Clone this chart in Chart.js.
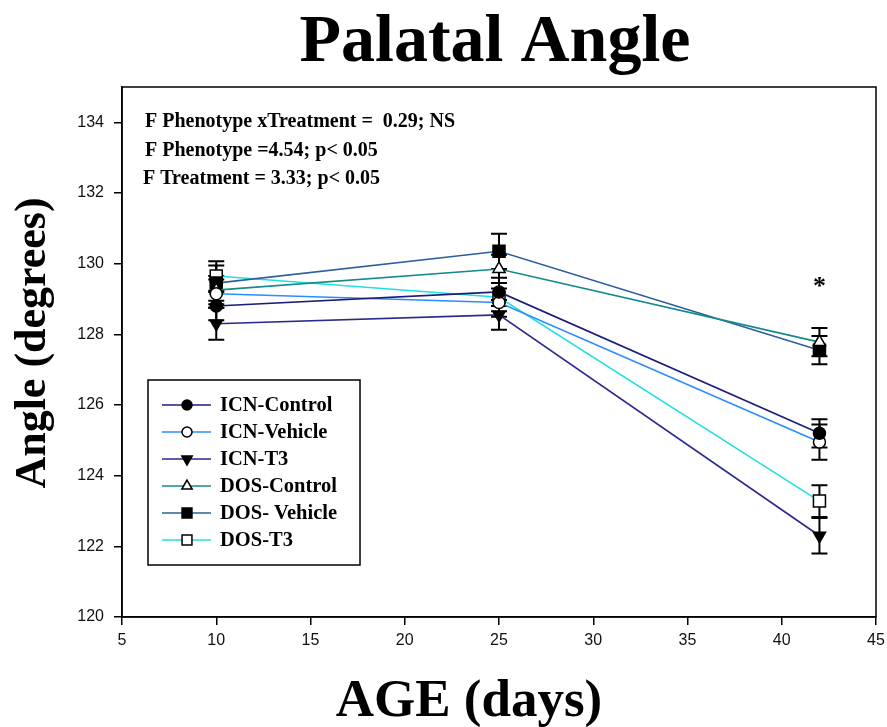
<!DOCTYPE html>
<html>
<head>
<meta charset="utf-8">
<title>Palatal Angle</title>
<script src="https://cdn.jsdelivr.net/npm/chart.js@4.4.1/dist/chart.umd.min.js"></script>
<style>
  html, body { margin: 0; padding: 0; background: #fff; }
</style>
</head>
<body>
<canvas id="angleChart" width="887" height="727"></canvas>
<script>
// Age at measurement (days)
const ages = [10, 25, 42];

// Mean palatal angle (degrees) per group
const icnControl = [128.8, 129.2, 125.2];
const icnVehicle = [129.15, 128.9, 124.95];
const icnT3 = [128.3, 128.55, 122.3];
const dosControl = [129.25, 129.85, 127.78];
const dosVehicle = [129.45, 130.35, 127.55];
const dosT3 = [129.65, 129.05, 123.28];

// Standard error for each mean
const icnControlErr = [0.4, 0.4, 0.4];
const icnVehicleErr = [0.4, 0.4, 0.5];
const icnT3Err = [0.45, 0.42, 0.5];
const dosControlErr = [0.4, 0.4, 0.4];
const dosVehicleErr = [0.5, 0.5, 0.4];
const dosT3Err = [0.42, 0.4, 0.45];

const groupLabels = ["ICN-Control", "ICN-Vehicle", "ICN-T3", "DOS-Control", "DOS- Vehicle", "DOS-T3"];
const statLines = [
  "F Phenotype xTreatment =  0.29; NS",
  "F Phenotype =4.54; p< 0.05",
  "F Treatment = 3.33; p< 0.05"
];
const yTicks = [120, 122, 124, 126, 128, 130, 132, 134];
const xTicks = [5, 10, 15, 20, 25, 30, 35, 40, 45];

const means = [icnControl, icnVehicle, icnT3, dosControl, dosVehicle, dosT3];
const errors = [icnControlErr, icnVehicleErr, icnT3Err, dosControlErr, dosVehicleErr, dosT3Err];

const lineColors = ["#1c1c7a", "#2b8cff", "#2a2a8c", "#148a8a", "#2d5f9f", "#22e0e0"];
const markerStyles = [
  { pointStyle: "circle", fill: "#000", rotation: 0, radius: 6 },
  { pointStyle: "circle", fill: "#fff", rotation: 0, radius: 6 },
  { pointStyle: "triangle", fill: "#000", rotation: 180, radius: 7 },
  { pointStyle: "triangle", fill: "#fff", rotation: 0, radius: 7 },
  { pointStyle: "rect", fill: "#000", rotation: 0, radius: 8.5 },
  { pointStyle: "rect", fill: "#fff", rotation: 0, radius: 8.5 }
];

const SERIF = "'Liberation Serif', 'Times New Roman', serif";

const datasets = means.map((vals, i) => ({
  label: groupLabels[i],
  data: ages.map((a, j) => ({ x: a, y: vals[j] })),
  borderColor: lineColors[i],
  borderWidth: 1.6,
  tension: 0,
  fill: false,
  pointStyle: markerStyles[i].pointStyle,
  pointRotation: markerStyles[i].rotation,
  pointRadius: markerStyles[i].radius,
  pointBackgroundColor: markerStyles[i].fill,
  pointBorderColor: "#000",
  pointBorderWidth: 1.5
}));

// error bars, frame, titles, stats text, legend and significance mark
const decorations = {
  id: "decorations",
  beforeDatasetsDraw(chart) {
    const { ctx, scales: { x, y } } = chart;
    ctx.save();
    ctx.strokeStyle = "#000";
    ctx.lineWidth = 2;
    chart.data.datasets.forEach((ds, i) => {
      ds.data.forEach((pt, j) => {
        const px = x.getPixelForValue(pt.x);
        const top = y.getPixelForValue(pt.y + errors[i][j]);
        const bot = y.getPixelForValue(pt.y - errors[i][j]);
        ctx.beginPath();
        ctx.moveTo(px, top); ctx.lineTo(px, bot);
        ctx.moveTo(px - 8, top); ctx.lineTo(px + 8, top);
        ctx.moveTo(px - 8, bot); ctx.lineTo(px + 8, bot);
        ctx.stroke();
      });
    });
    ctx.restore();
  },
  afterDraw(chart) {
    const { ctx, chartArea: a, scales: { x, y } } = chart;
    ctx.save();

    // top and right edges of the box
    ctx.strokeStyle = "#000";
    ctx.lineWidth = 1.5;
    ctx.strokeRect(a.left, a.top, a.right - a.left, a.bottom - a.top);

    ctx.fillStyle = "#000";
    ctx.textAlign = "center";
    ctx.textBaseline = "alphabetic";
    ctx.font = "bold 68px " + SERIF;
    ctx.fillText("Palatal Angle", 495, 61);

    ctx.font = "bold 53px " + SERIF;
    ctx.fillText("AGE (days)", 469, 716);

    ctx.save();
    ctx.translate(45, 343);
    ctx.rotate(-Math.PI / 2);
    ctx.font = "bold 44px " + SERIF;
    ctx.fillText("Angle (degrees)", 0, 0);
    ctx.restore();

    // ANOVA results
    ctx.textAlign = "left";
    ctx.font = "bold 20px " + SERIF;
    ctx.fillText(statLines[0], 145, 127);
    ctx.fillText(statLines[1], 145, 156);
    ctx.fillText(statLines[2], 143, 184);

    // significance at day 42
    ctx.textAlign = "center";
    ctx.font = "bold 26px " + SERIF;
    ctx.fillText("*", x.getPixelForValue(42), y.getPixelForValue(129.15));

    // legend box
    const box = { left: 148, top: 380, right: 360, bottom: 565 };
    ctx.lineWidth = 1.5;
    ctx.strokeRect(box.left, box.top, box.right - box.left, box.bottom - box.top);
    ctx.font = "bold 20.5px " + SERIF;
    ctx.textBaseline = "middle";
    chart.data.datasets.forEach((ds, i) => {
      const rowY = 405 + i * 27;
      ctx.strokeStyle = ds.borderColor;
      ctx.lineWidth = 1.6;
      ctx.beginPath();
      ctx.moveTo(162, rowY);
      ctx.lineTo(211, rowY);
      ctx.stroke();
      ctx.fillStyle = ds.pointBackgroundColor;
      ctx.strokeStyle = "#000";
      ctx.lineWidth = 1.5;
      Chart.helpers.drawPoint(ctx, {
        pointStyle: ds.pointStyle,
        rotation: ds.pointRotation,
        radius: ds.pointStyle === "rect" ? 7 : (ds.pointStyle === "triangle" ? 6 : 5),
        borderWidth: 1.5
      }, 187, rowY);
      ctx.fillStyle = "#000";
      ctx.textAlign = "left";
      ctx.fillText(ds.label, 220, rowY + 1);
    });

    ctx.restore();
  }
};

new Chart(document.getElementById("angleChart"), {
  type: "line",
  data: { datasets },
  plugins: [decorations],
  options: {
    responsive: false,
    animation: false,
    devicePixelRatio: 1,
    layout: { padding: { top: 87, right: 11, left: 0, bottom: 0 } },
    plugins: {
      legend: { display: false },
      title: { display: false },
      tooltip: { enabled: false }
    },
    scales: {
      x: {
        type: "linear",
        min: 5,
        max: 45,
        afterFit: (s) => { s.height = 110; s.paddingLeft = 0; s.paddingRight = 0; },
        afterBuildTicks: (s) => { s.ticks = xTicks.map((v) => ({ value: v })); },
        ticks: { color: "#111", padding: 6, font: { family: "'Liberation Sans', Arial, sans-serif", size: 16 } },
        grid: { drawOnChartArea: false, drawTicks: true, tickLength: 8, color: "#000", lineWidth: 1.5 },
        border: { display: true, color: "#000", width: 1.5 }
      },
      y: {
        type: "linear",
        min: 120,
        max: 135,
        afterFit: (s) => { s.width = 122; s.paddingTop = 0; s.paddingBottom = 0; },
        afterBuildTicks: (s) => { s.ticks = yTicks.map((v) => ({ value: v })); },
        ticks: { color: "#111", padding: 10, font: { family: "'Liberation Sans', Arial, sans-serif", size: 16 } },
        grid: { drawOnChartArea: false, drawTicks: true, tickLength: 8, color: "#000", lineWidth: 1.5 },
        border: { display: true, color: "#000", width: 1.5 }
      }
    }
  }
});
</script>
</body>
</html>
